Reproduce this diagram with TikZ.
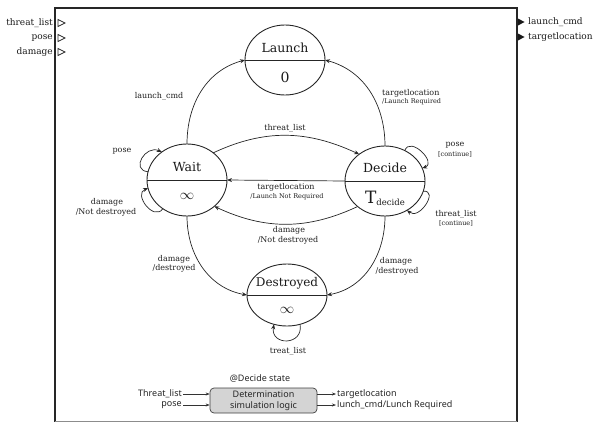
\documentclass[tikz,border=0pt]{standalone}
\usepackage{fontspec}
\setmainfont{DejaVu Serif}
\newfontfamily\blocksans{Noto Sans}
\usetikzlibrary{arrows.meta,shapes.geometric}

\begin{document}
\begin{tikzpicture}[x=1pt,y=1pt,
  state/.style={draw=black!85, line width=0.9pt, ellipse, minimum width=80pt,
    minimum height=72pt, inner sep=0pt, outer sep=0pt},
  divider/.style={draw=black!85, line width=0.9pt},
  trans/.style={draw=black!85, line width=0.7pt, -{Stealth[length=5pt,width=4pt]}},
  sname/.style={font=\fontsize{12.5}{13}\selectfont, text=black!90, inner sep=0pt},
  stime/.style={font=\fontsize{15}{15}\selectfont, text=black!90, inner sep=0pt},
  lbl/.style={font=\fontsize{8}{9}\selectfont, text=black!88, inner sep=0pt},
  sublbl/.style={font=\fontsize{6.5}{7}\selectfont, text=black!88, inner sep=0pt},
  portlbl/.style={font=\fontsize{9}{10}\selectfont, text=black!90, inner sep=0pt},
  blk/.style={font=\blocksans\fontsize{9}{11}\selectfont, text=black!85, inner sep=1pt},
  logicbox/.style={draw=black!75, line width=0.7pt, fill=black!17, rounded corners=4pt,
    minimum width=107pt, minimum height=25pt, align=center, inner sep=1pt,
    font=\blocksans\fontsize{9}{11}\selectfont, text=black!85},
  small arrow/.style={draw=black!80, line width=0.6pt, -{Stealth[length=4pt,width=3pt]}}
]
\useasboundingbox (0,0) rectangle (593,-423);

% outer model frame
\draw[line width=1.6pt, draw=black!85] (55,-421.5) -- (55,-8) -- (517,-8) -- (517,-421.5);
\draw[line width=1.2pt, draw=black!45] (55,-421.5) -- (517,-421.5);

% input ports
\node[portlbl, anchor=east] (pthreat) at (53,-23) {threat\_list};
\node[portlbl, anchor=east] (ppose) at (53,-38) {pose};
\node[portlbl, anchor=east] (pdamage) at (53,-52) {damage};
\foreach \p in {pthreat,ppose,pdamage}
  \draw[draw=black!85, line width=0.7pt, fill=white]
    ([xshift=5pt]\p.east) ++(0,3.5) -- ++(7,-3.5) -- ++(-7,-3.5) -- cycle;

% output ports
\node[portlbl, anchor=west] (plaunch) at (528,-22) {launch\_cmd};
\node[portlbl, anchor=west] (ptarget) at (528,-37) {targetlocation};
\foreach \p in {plaunch,ptarget}
  \fill[black!90] ([xshift=-10pt]\p.west) ++(0,3.5) -- ++(6.5,-3.5) -- ++(-6.5,-3.5) -- cycle;

% states
\node[state, minimum height=70pt] (launch) at (285,-60) {};
\node[state] (wait) at (187,-180) {};
\node[state, minimum height=70pt] (decide) at (385,-181) {};
\node[state, minimum height=62pt] (destroyed) at (287,-295) {};
\foreach \s in {launch,wait,decide,destroyed}
  \draw[divider] (\s.west) -- (\s.east);

\node[sname] (launchname) at (285,-48) {Launch};
\node[sname, font=\fontsize{14}{14}\selectfont] (launchtime) at (285,-77) {0};
\node[sname] (waitname) at (187,-167) {Wait};
\node[stime] (waittime) at (187,-196) {$\infty$};
\node[sname] (decidename) at (385,-168) {Decide};
\node[inner sep=0pt, text=black!90] (decidetime) at (385,-198)
  {{\fontsize{17}{17}\selectfont T}\raisebox{-2pt}{\fontsize{8.5}{9}\selectfont decide}};
\node[sname, font=\fontsize{12}{13}\selectfont] (destroyedname) at (287,-283) {Destroyed};
\node[stime] (destroyedtime) at (287,-310) {$\infty$};

% transitions
\draw[trans] (wait.north) to[out=90,in=195] (launch.west);
\draw[trans] (decide.north) to[out=90,in=-15] (launch.east);
\draw[trans] (wait.46) to[out=25,in=155] (decide.134);
\draw[trans] (decide.west) -- (wait.east);
\draw[trans] (decide.223) to[out=205,in=-25] (wait.-44);
\draw[trans] (wait.south) to[out=-90,in=170] (destroyed.west);
\draw[trans] (decide.south) to[out=-90,in=10] (destroyed.east);

% self transitions
\draw[trans] (wait.168) to[out=175,in=155,distance=18pt] (wait.132);
\draw[trans] (wait.230) to[out=235,in=200,distance=16pt] (wait.192);
\draw[trans] (decide.57) to[out=70,in=20,distance=16pt] (decide.19);
\draw[trans] (decide.-15) to[out=5,in=-40,distance=16pt] (decide.-53);
\draw[trans] (destroyed.-66) to[out=-80,in=-100,distance=22pt] (destroyed.-114);

% transition labels
\node[lbl] (l1) at (159,-96) {launch\_cmd};
\node[lbl, anchor=west] (l2a) at (382,-93) {targetlocation};
\node[sublbl, anchor=west] (l2b) at (382,-102) {/Launch Required};
\node[lbl] (l3) at (285,-128) {threat\_list};
\node[lbl] (l4a) at (286,-187) {targetlocation};
\node[sublbl] (l4b) at (287,-197) {/Launch Not Required};
\node[lbl] (l5a) at (289,-230) {damage};
\node[lbl] (l5b) at (288,-240) {/Not destroyed};
\node[lbl] (l6a) at (174,-259) {damage};
\node[lbl] (l6b) at (174,-268) {/destroyed};
\node[lbl] (l7a) at (396,-261) {damage};
\node[lbl] (l7b) at (397,-271) {/destroyed};
\node[lbl] (l8) at (122,-151) {pose};
\node[lbl] (l9a) at (107,-202) {damage};
\node[lbl] (l9b) at (106,-212) {/Not destroyed};
\node[lbl] (l10a) at (455,-145) {pose};
\node[sublbl] (l10b) at (455,-154) {[continue]};
\node[lbl] (l11a) at (456,-214) {threat\_list};
\node[sublbl] (l11b) at (456,-223) {[continue]};
\node[lbl] (l12) at (288,-351) {treat\_list};

% decision logic block
\node[blk] (blocktitle) at (260,-378) {@Decide state};
\node[logicbox] (logic) at (263.5,-400.5) {Determination\\simulation logic};
\node[blk, anchor=east] (in1) at (183,-394) {Threat\_list};
\node[blk, anchor=east] (in2) at (183,-405) {pose};
\node[blk, anchor=west] (out1) at (336,-394) {targetlocation};
\node[blk, anchor=west] (out2) at (336,-405) {lunch\_cmd/Lunch Required};
\draw[small arrow] (in1.east) -- (logic.west |- in1.east);
\draw[small arrow] (in2.east) -- (logic.west |- in2.east);
\draw[small arrow] (logic.east |- out1.west) -- (out1.west);
\draw[small arrow] (logic.east |- out2.west) -- (out2.west);
\end{tikzpicture}
\end{document}
